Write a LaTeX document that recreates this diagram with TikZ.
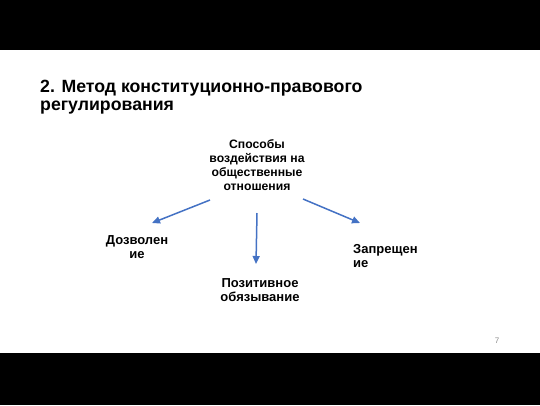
\documentclass[tikz,border=0pt]{standalone}
\usepackage{fontspec}
\setmainfont{Liberation Sans}
\usetikzlibrary{arrows.meta}
\usetikzlibrary{positioning}
\definecolor{arrowblue}{HTML}{4472C4}

\begin{document}
\begin{tikzpicture}[x=1pt,y=-1pt]
	\useasboundingbox (0,0) rectangle (540,405);
	\fill[black] (0,0) rectangle (540,50);
	\fill[black] (0,353) rectangle (540,405);

	\node[anchor=north west, inner sep=0pt, align=left,
	      font=\bfseries\fontsize{17.7}{18}\selectfont] (title) at (40,80)
	      {2. Метод конституционно-правового\\регулирования};

	\begin{scope}[every node/.style={inner sep=0pt, align=center,
	              font=\bfseries\fontsize{12.2}{14}\selectfont}]
		\node[anchor=north] (root) at (257,139) {Способы\\воздействия на\\общественные\\отношения};
	\end{scope}
	\begin{scope}[every node/.style={inner sep=0pt, align=center,
	              font=\bfseries\fontsize{13}{14}\selectfont}]
		\node[anchor=north] (permit) at (137,235) {Дозволен\\ие};
		\node[anchor=north] (oblige) at (260,278) {Позитивное\\обязывание};
		\node[anchor=north west, align=left] (forbid) at (353,244) {Запрещен\\ие};
	\end{scope}

	\node[text=black!45, font=\fontsize{8}{9}\selectfont] (pagenum) at (497,341) {7};

	\coordinate (l1) at (210,200);
	\coordinate (l2) at (152,223);
	\coordinate (m1) at (257,213);
	\coordinate (m2) at (256,264);
	\coordinate (r1) at (303,199);
	\coordinate (r2) at (360,223);

	\begin{scope}[>={Triangle[length=8pt,width=7pt]},
	              every path/.style={draw=arrowblue, fill=none, line width=1.5pt}]
		\draw[->] (l1) -- (l2);
		\draw[->] (m1) -- (m2);
		\draw[->] (r1) -- (r2);
	\end{scope}
\end{tikzpicture}
\end{document}
